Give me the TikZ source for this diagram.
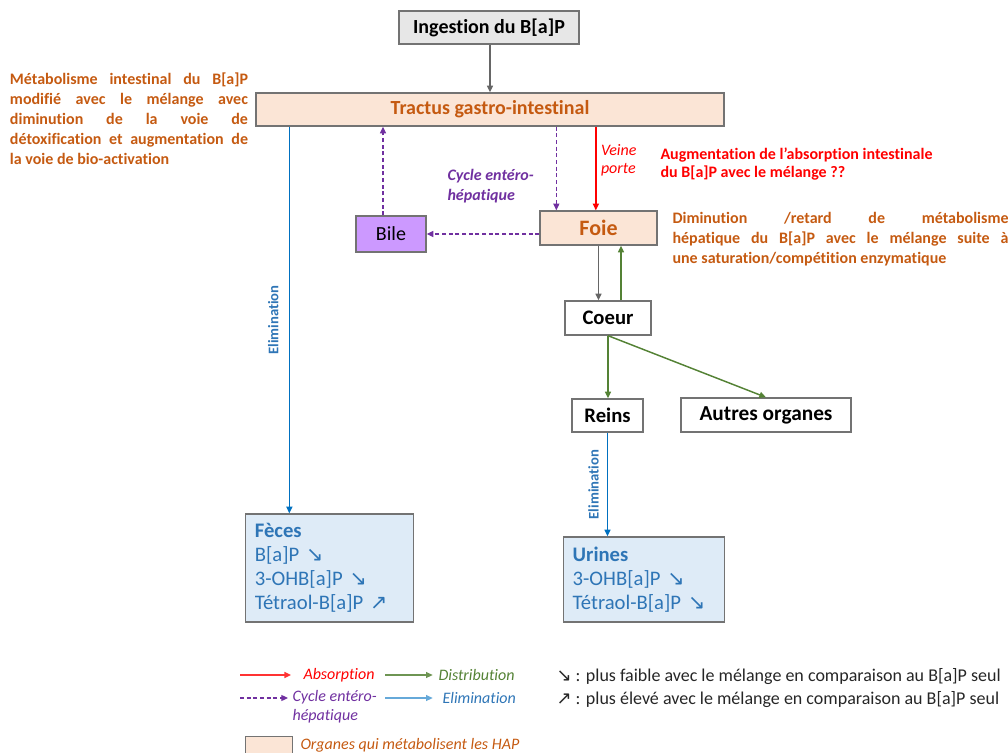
\documentclass[tikz,border=0pt]{standalone}
\usepackage{fontspec}
\setmainfont{Carlito}[Ligatures=NoCommon]
\newfontfamily\symfont{DejaVu Sans}
\usetikzlibrary{arrows.meta, positioning}

\newcommand{\dn}{{\symfont\char"2198}}
\newcommand{\up}{{\symfont\char"2197}}

\begin{document}
\hyphenpenalty=10000
\exhyphenpenalty=10000
\begin{tikzpicture}[x=0.75pt, y=-0.75pt, thick,
  box/.style={draw=black!55, line width=1pt, inner sep=0pt, align=center},
  organ/.style={box, fill=peach, text=orangetxt, font=\bfseries\fontsize{15.5}{17}\selectfont},
  plain/.style={box, fill=white, font=\bfseries\fontsize{15.5}{17}\selectfont},
  result/.style={box, fill=lightblue, text=bluetxt, align=left, inner xsep=7pt,
    font=\fontsize{15.5}{18}\selectfont},
  tip/.style={-{Triangle[length=5pt, width=4.5pt]}, line width=1.1pt},
  ingest/.style={tip, draw=black!60, line width=0.9pt},
  absorb/.style={tip, draw=redarr},
  distrib/.style={tip, draw=greenarr},
  elim/.style={tip, draw=bluearr},
  cycle/.style={tip, draw=purplearr, line width=0.9pt, dash pattern=on 3pt off 2pt},
  elimlbl/.style={rotate=90, text=bluetxt, font=\bfseries\fontsize{11}{13}\selectfont},
  note/.style={text=orangetxt, inner sep=0pt, font=\bfseries\fontsize{12}{15}\selectfont, align=justify},
  legtxt/.style={font=\itshape\fontsize{12}{14.5}\selectfont, anchor=west, align=left}]

  % Colors
  \definecolor{peach}{RGB}{251,229,214}
  \definecolor{greybox}{RGB}{231,231,231}
  \definecolor{bilepurple}{RGB}{204,153,255}
  \definecolor{lightblue}{RGB}{222,235,247}
  \definecolor{orangetxt}{RGB}{197,90,17}
  \definecolor{bluetxt}{RGB}{46,117,182}
  \definecolor{bluearr}{RGB}{0,112,192}
  \definecolor{redarr}{RGB}{255,0,0}
  \definecolor{greenarr}{RGB}{84,130,53}
  \definecolor{purplearr}{RGB}{112,48,160}

  \useasboundingbox (0,0) rectangle (1008,753);

  % Boxes
  \node[box, fill=greybox, minimum width=135pt, minimum height=24.75pt,
    font=\bfseries\fontsize{15}{17}\selectfont] (ing) at (489,27.5) {Ingestion du B[a]P};
  \node[organ, minimum width=351pt, minimum height=24.75pt, font=\bfseries\fontsize{15}{17}\selectfont] (tract) at (490,109.5) {Tractus gastro-intestinal};
  \node[organ, minimum width=87.75pt, minimum height=25.5pt,
    font=\bfseries\fontsize{16.5}{18}\selectfont] (foie) at (598.5,228) {Foie};
  \node[box, fill=bilepurple, minimum width=52.5pt, minimum height=27pt,
    font=\fontsize{15}{17}\selectfont] (bile) at (391,234) {Bile};
  \node[plain, minimum width=64.5pt, minimum height=25.5pt] (coeur) at (608,318) {Coeur};
  \node[plain, minimum width=53.25pt, minimum height=24.75pt] (reins) at (607.5,415.5) {Reins};
  \node[plain, minimum width=127.5pt, minimum height=25.5pt, font=\bfseries\fontsize{16}{18}\selectfont] (autres) at (766,415) {Autres organes};
  \node[result, text width=112pt, minimum height=81pt] (feces) at (329.5,568)
    {\textbf{Fèces}\\B[a]P \dn\\3-OHB[a]P \dn\\Tétraol-B[a]P \up};
  \node[result, text width=107pt, minimum height=63.75pt] (urines) at (644,579.5)
    {\textbf{Urines}\\3-OHB[a]P \dn\\Tétraol-B[a]P \dn};

  % Notes
  \node[note, text width=178.5pt] (noteintest) at (129,119)
    {Métabolisme intestinal du B[a]P\linebreak modifié avec le mélange avec\linebreak diminution de la voie de\linebreak détoxification et augmentation de\linebreak la voie de bio-activation};
  \node[text=redarr, inner sep=0pt, font=\bfseries\fontsize{12}{14}\selectfont, align=left, anchor=west] (noteabs) at (660,164)
    {Augmentation de l’absorption intestinale\\du B[a]P avec le mélange ??};
  \node[note, text width=252pt, anchor=west] (notefoie) at (672,239)
    {Diminution /retard de métabolisme\linebreak hépatique du B[a]P avec le mélange suite à\linebreak une saturation/compétition enzymatique};

  % Connectors
  \draw[ingest] (ing.south -| tract.north) -- (tract.north);
  \draw[elim] ([xshift=25.5pt]tract.south west) -- ([xshift=25.5pt]tract.south west |- feces.north)
    node[midway, elimlbl, yshift=12pt] {Elimination};
  \draw[cycle] ([xshift=-6pt]bile.north) -- ([xshift=-6pt]bile.north |- tract.south);
  \draw[cycle] ([xshift=12.75pt]foie.north west |- tract.south) -- ([xshift=12.75pt]foie.north west);
  \draw[absorb] ([xshift=-2pt]foie.north |- tract.south) -- ([xshift=-2pt]foie.north)
    node[pos=0.4, right=0pt, text=redarr, font=\itshape\fontsize{12}{14}\selectfont, align=left] {Veine\\porte};
  \draw[cycle] ([yshift=-4.5pt]foie.west) -- ([yshift=-4.5pt]foie.west -| bile.east);
  \node[text=purplearr, inner sep=0pt, font=\bfseries\itshape\fontsize{12}{14.5}\selectfont, align=left, anchor=west] (cyclelbl) at (447,186)
    {Cycle entéro-\\hépatique};
  \draw[ingest] (foie.south) -- (foie.south |- coeur.north);
  \draw[distrib] ([xshift=9.75pt]coeur.north) -- ([xshift=9.75pt]coeur.north |- foie.south);
  \draw[distrib] (coeur.south) -- (coeur.south |- reins.north);
  \draw[distrib] (coeur.south) -- (autres.north);
  \draw[elim] (reins.south) -- (reins.south |- urines.north)
    node[midway, elimlbl, yshift=10.5pt] {Elimination};

  % Legend
  \coordinate (legA) at (240,675);
  \coordinate (legD) at (385,675);
  \coordinate (legC) at (240,698);
  \coordinate (legE) at (385,698);
  \node[legtxt, text=redarr, inner sep=0pt] (labA) at (303,675) {Absorption};
  \node[legtxt, text=greenarr, inner sep=0pt] (labD) at (438,675) {Distribution};
  \node[legtxt, text=purplearr, inner sep=0pt, anchor=north west] (labC) at (292,690) {Cycle entéro-\\hépatique};
  \node[legtxt, text=bluetxt, inner sep=0pt] (labE) at (442,698) {Elimination};
  \draw[absorb, draw=redarr!80] (legA) -- ([xshift=-9pt]labA.west);
  \draw[distrib, draw=greenarr!85] (legD) -- ([xshift=-4pt]labD.west);
  \draw[cycle] (legC) -- ([xshift=-3pt]legC -| labC.west);
  \draw[elim, draw=bluearr!60] (legE) -- ([xshift=-7pt]labE.west);
  \node[box, fill=peach, minimum width=35pt, minimum height=15pt, anchor=north west] (legorg) at (245,736) {};
  \node[legtxt, text=orangetxt, inner sep=0pt] (laborg) at (300,745) {Organes qui métabolisent les HAP};
  \node[anchor=west, inner sep=0pt, font=\fontsize{13.5}{17.25}\selectfont, align=left, text=black!85] (legsym) at (556,688)
    {\dn\ : plus faible avec le mélange en comparaison au B[a]P seul\\\up\ : plus élevé avec le mélange en comparaison au B[a]P seul};

\end{tikzpicture}
\end{document}
